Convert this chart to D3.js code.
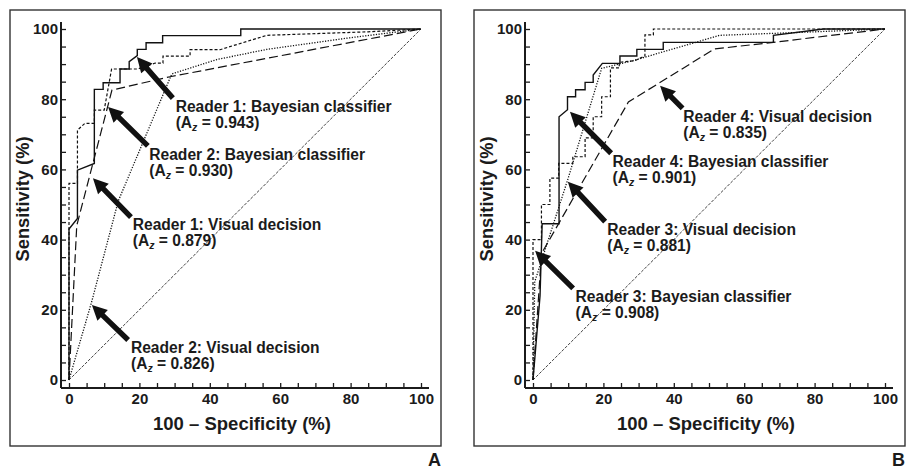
<!DOCTYPE html>
<html>
<head>
<meta charset="utf-8">
<script src="https://cdn.jsdelivr.net/npm/d3@7"></script>
<style>
body { margin: 0; background: #fff; }
svg { display: block; }
text { font-family: "Liberation Sans", Arial, Helvetica, sans-serif; font-weight: bold; fill: #1b1b1b; }
</style>
</head>
<body>
<svg id="chart" width="906" height="471"></svg>
<script>
// axis values
const tickValues = d3.range(0, 101, 5)
const chance = [[0, 0], [100, 100]]

// panel A curves: [100 - specificity, sensitivity]
const r1Bayes = [[0,0],[0,43],[2.4,46],[2.4,59.8],[7.2,61.7],[7.2,82.8],[9.7,82.8],[9.7,84.7],[14.5,84.7],[14.5,88.6],[17.1,88.6],[17.1,90.7],[19.4,92.4],[19.4,94.2],[21.9,94.2],[21.9,96.1],[26.6,96.1],[26.6,98.1],[48.8,98.1],[48.8,100],[100,100]]
const r2Bayes = [[0,0],[0,56],[2.4,56],[2.4,71.2],[4.5,73.1],[7.2,73.1],[7.2,76.9],[10,76.9],[12.1,88.6],[19.5,88.6],[24.5,90.3],[26.7,90.3],[26.7,92.3],[34.4,92.3],[34.4,94.1],[42.9,94.1],[56.2,98.2],[85,99.2],[100,100]]
const r1Visual = [[0,0],[2.2,44],[12.2,82.6],[28.7,86.4],[100,100]]
const r2Visual = [[0,0],[6.5,22.5],[14,51],[29.2,87.2],[42,91.3],[56.2,94.2],[79.8,97.5],[100,100]]
const labelsA = [
  {name: "Reader 1: Bayesian classifier", az: "0.943"},
  {name: "Reader 2: Bayesian classifier", az: "0.930"},
  {name: "Reader 1: Visual decision", az: "0.879"},
  {name: "Reader 2: Visual decision", az: "0.826"}
]

// panel B curves
const r4Bayes = [[0,0],[2,24],[2.6,44.5],[7.4,44.5],[7.4,75],[9.8,77],[9.8,80.7],[12.1,80.7],[12.1,82.7],[14.8,82.7],[14.8,84.8],[17.1,84.8],[17.1,86.9],[19.7,90.2],[24.7,90.2],[24.7,92.3],[29.5,92.3],[29.5,94.2],[37,94.2],[37,96.2],[68.3,96.2],[68.3,98.2],[82.5,100],[100,100]]
const r3Bayes = [[0,0],[0,40],[2.4,40],[2.4,50],[4.8,50],[4.8,57.5],[7.3,57.5],[7.3,61.7],[11.3,61.7],[11.3,63.6],[14.8,63.6],[14.8,69],[17.1,69],[17.1,75],[19.5,75],[19.5,80.7],[22,80.7],[22,88.9],[24.5,88.9],[24.5,90.5],[29,91],[31.8,92.3],[31.8,98.3],[34.2,98.3],[34.2,100],[100,100]]
const r4Visual = [[0,0],[2.4,36],[27.1,79.2],[51.5,94.3],[68.3,96.2],[100,100]]
const r3Visual = [[0,0],[0.5,28],[10,57.5],[19.5,88.8],[28.5,91],[53,98.2],[75,99],[100,100]]
const labelsB = [
  {name: "Reader 4: Visual decision", az: "0.835"},
  {name: "Reader 4: Bayesian classifier", az: "0.901"},
  {name: "Reader 3: Visual decision", az: "0.881"},
  {name: "Reader 3: Bayesian classifier", az: "0.908"}
]

// line looks
const looks = {
  solid:  {w: 1.4, dash: null},
  short:  {w: 1.2, dash: "3,2"},
  long:   {w: 1.2, dash: "9,4"},
  dotted: {w: 1.3, dash: "1.2,1.5"},
  chance: {w: 0.8, dash: "3,1.5"}
}

const svg = d3.select("#chart")

function drawPanel(p) {
  const g = svg.append("g")

  const x = d3.scaleLinear().domain([0, 100]).range([p.x0, p.x0 + 352])
  const y = d3.scaleLinear().domain([0, 100]).range([380, 29])
  const axisX = p.x0 - 8, axisY = 388

  // frame
  g.append("rect")
    .attr("x", p.frame[0]).attr("y", 10)
    .attr("width", p.frame[1]).attr("height", 436)
    .attr("fill", "none").attr("stroke", "#333").attr("stroke-width", 1.4)

  // axes
  const yAxis = d3.axisLeft(y).tickValues(tickValues)
    .tickSizeInner(-5).tickSizeOuter(0).tickPadding(3)
    .tickFormat(d => d % 20 === 0 ? d : "")
  const xAxis = d3.axisBottom(x).tickValues(tickValues)
    .tickSizeInner(-5).tickSizeOuter(0).tickPadding(5)
    .tickFormat(d => d % 20 === 0 ? d : "")

  const gy = g.append("g").attr("transform", "translate(" + axisX + ",0)").call(yAxis)
  const gx = g.append("g").attr("transform", "translate(0," + axisY + ")").call(xAxis)
  ;[gy, gx].forEach(a => {
    a.select(".domain").remove()
    a.selectAll("line").attr("stroke", "#1b1b1b").attr("stroke-width", 1.3)
    a.selectAll("text").attr("font-size", 15).attr("font-family", null).attr("fill", null)
  })

  g.append("line")
    .attr("x1", axisX).attr("x2", axisX).attr("y1", 22).attr("y2", axisY)
    .attr("stroke", "#1b1b1b").attr("stroke-width", 2)
  g.append("line")
    .attr("x1", axisX).attr("x2", x(100) + 8).attr("y1", axisY).attr("y2", axisY)
    .attr("stroke", "#1b1b1b").attr("stroke-width", 2)

  // axis titles
  g.append("text")
    .attr("x", (x(0) + x(100)) / 2 - 3).attr("y", 430)
    .attr("text-anchor", "middle").attr("font-size", 18.5)
    .text("100 \u2013 Specificity (%)")
  g.append("text")
    .attr("transform", "translate(" + (p.x0 - 40) + ",199) rotate(-90)")
    .attr("text-anchor", "middle").attr("font-size", 18.3)
    .text("Sensitivity (%)")

  // curves
  const line = d3.line().x(d => x(d[0])).y(d => y(d[1]))
  p.curves.forEach(c => {
    const lk = looks[c.look]
    g.append("path")
      .datum(c.data)
      .attr("d", line)
      .attr("fill", "none")
      .attr("stroke", "#111")
      .attr("stroke-width", lk.w)
      .attr("stroke-dasharray", lk.dash)
      .attr("stroke-linejoin", "miter")
  })

  // annotations with arrows
  p.notes.forEach((n, i) => {
    const lab = p.labels[i]
    const tx = x(n.tail[0]), ty = y(n.tail[1])
    const hx = x(n.tip[0]), hy = y(n.tip[1])
    const ang = Math.atan2(hy - ty, hx - tx)
    const len = Math.hypot(hx - tx, hy - ty)
    const headL = 15, headW = 7.5, shaftW = 2.7
    const pts = [
      [0, -shaftW], [len - headL, -shaftW], [len - headL, -headW], [len, 0],
      [len - headL, headW], [len - headL, shaftW], [0, shaftW]
    ]
    g.append("polygon")
      .attr("points", pts.map(q => q.join(",")).join(" "))
      .attr("transform", "translate(" + tx + "," + ty + ") rotate(" + (ang * 180 / Math.PI) + ")")
      .attr("fill", "#111")

    const tX = x(n.text[0]), tY = y(n.text[1])
    g.append("text").attr("x", tX).attr("y", tY)
      .attr("font-size", 15.6).text(lab.name)
    const t2 = g.append("text").attr("x", tX).attr("y", tY + 16).attr("font-size", 15.6)
    t2.append("tspan").text("(A")
    t2.append("tspan").attr("dy", 3).attr("font-size", 10.5).attr("font-style", "italic").text("z")
    t2.append("tspan").attr("dy", -3).text(" = " + lab.az + ")")
  })

  svg.append("text")
    .attr("x", p.frame[0] + p.frame[1]).attr("y", 466)
    .attr("text-anchor", "end").attr("font-size", 18)
    .text(p.letter)
}

drawPanel({
  letter: "A",
  x0: 69,
  frame: [10, 431],
  curves: [
    {data: chance, look: "chance"},
    {data: r2Visual, look: "dotted"},
    {data: r1Visual, look: "long"},
    {data: r2Bayes, look: "short"},
    {data: r1Bayes, look: "solid"}
  ],
  labels: labelsA,
  notes: [
    {text: [30.3, 76.4], tail: [29.5, 80.3], tip: [19.3, 92.0]},
    {text: [22.8, 62.7], tail: [22.4, 66.7], tip: [11.1, 77.8]},
    {text: [18.1, 42.7], tail: [17.6, 46.4], tip: [6.8, 57.5]},
    {text: [17.6, 7.7], tail: [16.8, 11.4], tip: [6.5, 21.4]}
  ]
})

drawPanel({
  letter: "B",
  x0: 533,
  frame: [474, 431],
  curves: [
    {data: chance, look: "chance"},
    {data: r3Visual, look: "dotted"},
    {data: r4Visual, look: "long"},
    {data: r3Bayes, look: "short"},
    {data: r4Bayes, look: "solid"}
  ],
  labels: labelsB,
  notes: [
    {text: [42.7, 73.5], tail: [42.5, 77.4], tip: [36.1, 83.8]},
    {text: [22.6, 60.7], tail: [22.2, 64.6], tip: [10.5, 76.4]},
    {text: [21.1, 41.3], tail: [20.5, 45.1], tip: [9.9, 56.5]},
    {text: [12.1, 22.2], tail: [11.4, 26.1], tip: [0.6, 36.8]}
  ]
})
</script>
</body>
</html>
